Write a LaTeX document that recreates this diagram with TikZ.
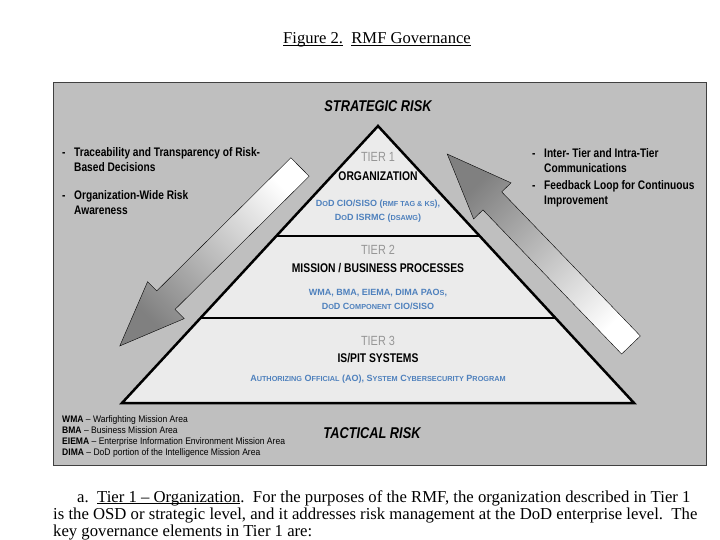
\documentclass[tikz,border=0pt]{standalone}
\usepackage{fontspec}
\setmainfont{Liberation Serif}
\newfontfamily\narrowFont[FakeStretch=0.82]{Liberation Sans}
\newfontfamily\legendFont[FakeStretch=0.9]{Liberation Sans}
\newfontfamily\roleFont{Liberation Sans}
\usetikzlibrary{positioning, calc}
\definecolor{boxGray}{RGB}{191,191,191}
\definecolor{pyramidFill}{RGB}{235,235,235}
\definecolor{tierGray}{RGB}{150,150,150}
\definecolor{roleBlue}{RGB}{79,129,189}
\definecolor{frameColor}{RGB}{64,64,64}
\tikzstyle{canvas} = [x = 1pt, y = -1pt]
\tikzstyle{riskText} = [font=\narrowFont\bfseries\itshape\fontsize{15.6}{15.6}\selectfont]
\tikzstyle{tierNum} = [font=\narrowFont\fontsize{13.3}{13.3}\selectfont, text=tierGray]
\tikzstyle{tierName} = [font=\narrowFont\bfseries\fontsize{12.6}{12.6}\selectfont]
\tikzstyle{tierRoles} = [font=\roleFont\bfseries\fontsize{9}{13.5}\selectfont, text=roleBlue, align=center]
\tikzstyle{sideNote} = [font=\narrowFont\bfseries\fontsize{12.4}{15}\selectfont, align=left, anchor=north west, inner sep=0]
\tikzstyle{legendText} = [font=\legendFont\fontsize{9.5}{11}\selectfont, align=left, anchor=north west, inner sep=0]
\tikzstyle{bodyText} = [font=\fontsize{16.7}{17}\selectfont, anchor=base west, inner sep=0]
\tikzstyle{tierLine} = [line width=2.5pt]
\tikzstyle{bigArrowStyle} = [draw=black, thin, top color=white, bottom color=black!50]
\newcommand{\smc}[1]{{\fontsize{7.3}{7.3}\selectfont #1}}
\newcommand{\dashItem}{\makebox[12pt][l]{-}}
\newcommand{\lineUnder}[1]{\leavevmode\setbox0=\hbox{#1}\rlap{\rule[-1.8pt]{\wd0}{0.8pt}}\box0}
\newcommand{\riskArrow}[5]{
  \begin{scope}[shift={(#1,#2)}, rotate=#3]
    \shade [bigArrowStyle, shading angle=#5] (0,-13) -- (#4-65,-13) -- (#4-65,-26) -- (#4,0) -- (#4-65,26) -- (#4-65,13) -- (0,13) -- cycle;
  \end{scope}
}

\begin{document}
\begin{tikzpicture}[canvas]
  \useasboundingbox (0,0) rectangle (720,540);
  \fill [white] (0,0) rectangle (720,540);

  \node (figTitle) [font=\fontsize{16.6}{16.6}\selectfont] at (377,40) {\lineUnder{Figure 2.}\ \ \lineUnder{RMF Governance}};

  % grey panel
  \filldraw [fill=boxGray, draw=frameColor] (53,82) rectangle (706,465);

  % flow arrows
  \riskArrow{300}{167}{224.8}{254}{-45}
  \riskArrow{631}{345}{133.9}{265}{225}

  % pyramid
  \coordinate (apex) at (378,126);
  \coordinate (baseLeft) at (122,403);
  \coordinate (baseRight) at (634,403);
  \coordinate (oneTwoLeft) at ($(apex)!0.397!(baseLeft)$);
  \coordinate (oneTwoRight) at ($(apex)!0.397!(baseRight)$);
  \coordinate (twoThreeLeft) at ($(apex)!0.693!(baseLeft)$);
  \coordinate (twoThreeRight) at ($(apex)!0.693!(baseRight)$);
  \filldraw [fill=pyramidFill, tierLine, line join=miter] (apex) -- (baseRight) -- (baseLeft) -- cycle;
  \draw [tierLine] (oneTwoLeft) -- (oneTwoRight);
  \draw [tierLine] (twoThreeLeft) -- (twoThreeRight);

  \node (strategicRisk) [riskText] at (378,106) {STRATEGIC RISK};
  \node (tacticalRisk) [riskText] at (372,433) {TACTICAL RISK};

  \node (tierOneNum) [tierNum] at (378,157) {TIER 1};
  \node (tierOneName) [tierName] at (378,176) {ORGANIZATION};
  \node (tierOneRoles) [tierRoles] at (378,211) {D\smc{O}D CIO/SISO (\smc{RMF TAG \& KS}),\\ D\smc{O}D ISRMC (\smc{DSAWG})};

  \node (tierTwoNum) [tierNum] at (378,250) {TIER 2};
  \node (tierTwoName) [tierName] at (378,268) {MISSION / BUSINESS PROCESSES};
  \node (tierTwoRoles) [tierRoles] at (378,299.5) {WMA, BMA, EIEMA, DIMA PAO\smc{S},\\ D\smc{O}D C\smc{OMPONENT} CIO/SISO};

  \node (tierThreeNum) [tierNum] at (378,341) {TIER 3};
  \node (tierThreeName) [tierName] at (378,358) {IS/PIT SYSTEMS};
  \node (tierThreeRoles) [tierRoles] at (378,379) {A\smc{UTHORIZING} O\smc{FFICIAL} (AO), S\smc{YSTEM} C\smc{YBERSECURITY} P\smc{ROGRAM}};

  % side notes
  \node (noteTrace) [sideNote] at (62,147) {\dashItem Traceability and Transparency of Risk-\\ \hspace*{12pt}Based Decisions};
  \node (noteAware) [sideNote] at (62,190) {\dashItem Organization-Wide Risk\\ \hspace*{12pt}Awareness};
  \node (noteComms) [sideNote] at (532,148) {\dashItem Inter- Tier and Intra-Tier\\ \hspace*{12pt}Communications};
  \node (noteLoop) [sideNote] at (532,180) {\dashItem Feedback Loop for Continuous\\ \hspace*{12pt}Improvement};

  \node (legend) [legendText] at (62,415) {\textbf{WMA} – Warfighting Mission Area\\ \textbf{BMA} – Business Mission Area\\ \textbf{EIEMA} – Enterprise Information Environment Mission Area\\ \textbf{DIMA} – DoD portion of the Intelligence Mission Area};

  % body text below figure
  \node (bodyOne) [bodyText] at (77,502) {a.\ \ \lineUnder{Tier 1 – Organization}.\ \ For the purposes of the RMF, the organization described in Tier 1};
  \node (bodyTwo) [bodyText] at (53,519) {is the OSD or strategic level, and it addresses risk management at the DoD enterprise level.\ \ The};
  \node (bodyThree) [bodyText] at (53,536) {key governance elements in Tier 1 are:};
\end{tikzpicture}
\end{document}
